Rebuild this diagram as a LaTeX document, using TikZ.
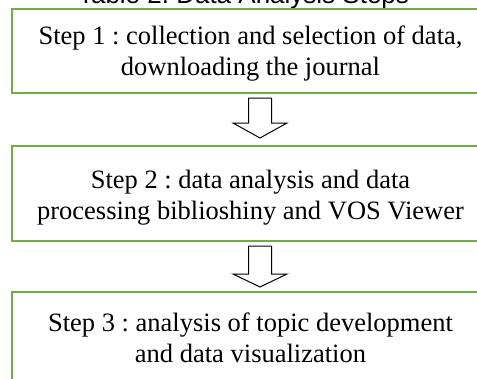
\documentclass[tikz,border=0pt]{standalone}
\usepackage{fontspec}
\setmainfont{Liberation Serif}
\newfontfamily\titlefont{Liberation Sans}
\usetikzlibrary{calc}
\definecolor{boxgreen}{HTML}{70AD47}
\frenchspacing
\tikzset{
  stepbox/.style={draw=boxgreen, line width=2pt, fill=white, minimum width=477pt, inner sep=0pt},
  steptext/.style={align=center, font=\fontsize{26.5}{31}\selectfont, inner sep=0pt, anchor=base},
  blockarrow/.style={draw=black, line width=1pt, fill=white, line join=miter},
}
\begin{document}
\begin{tikzpicture}[x=1pt,y=1pt]
\useasboundingbox (0,0) rectangle (477,-378);
\clip (0,0) rectangle (477,-378);
% title (cut off at the top)
\node[font=\titlefont\fontsize{26}{30}\selectfont, inner sep=0pt, anchor=base] (title) at (243.5,-3.5) {Table 2. Data Analysis Steps};
% boxes
\node[stepbox, minimum height=84.5pt] (b1) at (250.5,-50.75) {};
\node[steptext] (t1) at ($(b1.north)+(0,-67.5)$) {Step 1 : collection and selection of data,\\downloading the journal};
\node[stepbox, minimum height=95pt] (b2) at (250.5,-193.5) {};
\node[steptext] (t2) at ($(b2.north)+(0,-74)$) {Step 2 : data analysis and data\\processing biblioshiny and VOS Viewer};
\node[stepbox, minimum height=110pt] (b3) at (250.5,-347) {};
\node[steptext] (t3) at ($(b3.north)+(0,-71)$) {Step 3 : analysis of topic development\\and data visualization};
% block arrows
\coordinate (a1s) at ($(b1.south)+(9.5,-4)$);
\coordinate (a1e) at ($(b2.north)+(9.5,7)$);
\draw[blockarrow] ($(a1s)+(-11.5,0)$) -- ($(a1s)+(11.5,0)$) -- ($(a1e)+(11.5,15)$) -- ($(a1e)+(27,15)$) -- (a1e) -- ($(a1e)+(-27,15)$) -- ($(a1e)+(-11.5,15)$) -- cycle;
\coordinate (a2s) at ($(b2.south)+(9.5,-4)$);
\coordinate (a2e) at ($(b3.north)+(9.5,4)$);
\draw[blockarrow] ($(a2s)+(-11.5,0)$) -- ($(a2s)+(11.5,0)$) -- ($(a2e)+(11.5,13)$) -- ($(a2e)+(27,13)$) -- (a2e) -- ($(a2e)+(-27,13)$) -- ($(a2e)+(-11.5,13)$) -- cycle;
\end{tikzpicture}
\end{document}
